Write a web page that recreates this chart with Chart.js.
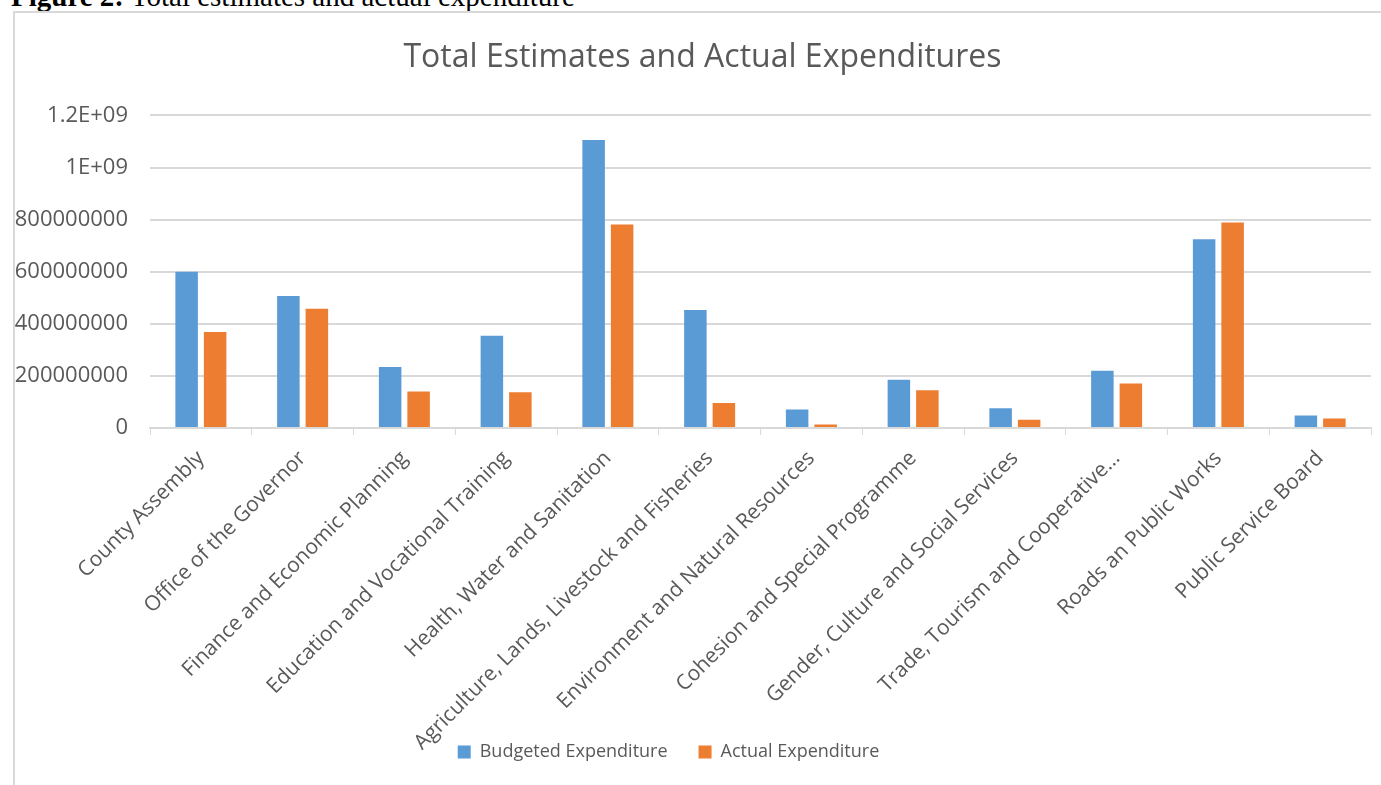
<!DOCTYPE html>
<html>
<head>
<meta charset="utf-8">
<title>Total Estimates and Actual Expenditures</title>
<script src="https://cdn.jsdelivr.net/npm/chart.js@4/dist/chart.umd.min.js"></script>
<style>
  body { margin: 0; background: #fff; overflow: hidden; }
  #caption {
    position: absolute; left: 11px; top: -18px;
    font-family: "Liberation Serif", "Times New Roman", serif;
    font-size: 29px; line-height: 29px; color: #000; white-space: nowrap;
  }
  #frame {
    position: absolute; left: 13px; top: 11px; width: 1400px; height: 800px;
    border-top: 2px solid #d9d9d9; border-left: 2px solid #d9d9d9;
  }
  #barChart1 { position: absolute; left: 0; top: 0; }
</style>
</head>
<body>
<div id="caption"><b>Figure 2:</b> Total estimates and actual expenditure</div>
<div id="frame"></div>
<canvas id="barChart1" width="1381" height="820"></canvas>

<script>
// DATA
const categories = [
  "County Assembly",
  "Office of the Governor",
  "Finance and Economic Planning",
  "Education and Vocational Training",
  "Health, Water and Sanitation",
  "Agriculture, Lands, Livestock and Fisheries",
  "Environment and Natural Resources",
  "Cohesion and Special Programme",
  "Gender, Culture and Social Services",
  "Trade, Tourism and Cooperative…",
  "Roads an Public Works",
  "Public Service Board"
];
const budgeted = [600000000, 507000000, 234000000, 354000000, 1106000000, 453000000,
  71000000, 185000000, 76000000, 220000000, 725000000, 48000000];
const actual = [369000000, 458000000, 140000000, 137000000, 781000000, 96000000,
  13000000, 145000000, 32000000, 171000000, 789000000, 36000000];
const yTickLabels = ["0", "200000000", "400000000", "600000000", "800000000", "1E+09", "1.2E+09"];

const textGray = "#595959";
const lineGray = "#d9d9d9";

// nudge title and legend, the legend sits beside the long rotated labels
const nudge = {
  id: "nudge",
  afterLayout(chart) {
    chart.titleBlock.left += 10;
    chart.titleBlock.right += 10;
    const lg = chart.legend;
    lg.left -= 24;
    lg.right -= 24;
    lg.bottom = 712 + lg.height;
    lg.top = 712;
  }
};

document.addEventListener("DOMContentLoaded", function() {

// Bar Chart
new Chart("barChart1", {
  type: "bar",
  data: {
    labels: categories,
    datasets: [{
      label: "Budgeted Expenditure",
      data: budgeted,
      backgroundColor: "#5b9bd5",
      categoryPercentage: 0.56,
      barPercentage: 0.79
    }, {
      label: "Actual Expenditure",
      data: actual,
      backgroundColor: "#ed7d31",
      categoryPercentage: 0.56,
      barPercentage: 0.79
    }]
  },
  options: {
    responsive: false,
    animation: false,
    layout: {
      padding: { left: 14, right: 10, top: 14, bottom: 11 }
    },
    plugins: {
      title: {
        display: true,
        text: "Total Estimates and Actual Expenditures",
        color: textGray,
        font: { family: "Open Sans", size: 32, weight: "normal" },
        padding: { top: 25, bottom: 38 }
      },
      legend: {
        position: "bottom",
        labels: {
          color: textGray,
          font: { family: "Open Sans", size: 18 },
          boxWidth: 13,
          boxHeight: 13,
          padding: 31
        }
      },
      tooltip: { enabled: false }
    },
    scales: {
      x: {
        grid: {
          drawOnChartArea: false,
          drawTicks: true,
          tickLength: 7,
          color: lineGray
        },
        border: { display: true, color: lineGray, width: 2 },
        ticks: {
          color: textGray,
          font: { family: "Open Sans", size: 21 },
          autoSkip: false,
          minRotation: 45,
          maxRotation: 45,
          padding: 11
        },
        afterFit: function(scale) { scale.height = 322; }
      },
      y: {
        min: 0,
        max: 1200000000,
        grid: { color: lineGray, lineWidth: 2, drawTicks: false },
        border: { display: false },
        ticks: {
          stepSize: 200000000,
          color: textGray,
          font: { family: "Open Sans", size: 22 },
          padding: 22,
          callback: function(value, index) { return yTickLabels[index]; }
        },
        afterFit: function(scale) { scale.width = 136; }
      }
    }
  },
  plugins: [nudge]
});
});
</script>
</body>
</html>
